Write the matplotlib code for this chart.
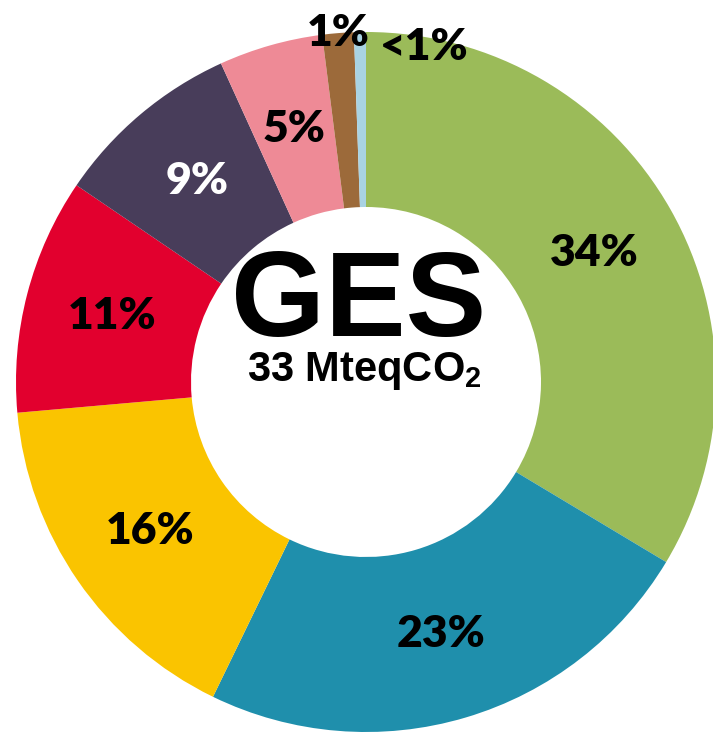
import matplotlib.pyplot as plt
import numpy as np

# Répartition des émissions de GES (parts en %)
valeurs = [33.6, 23.6, 16.4, 10.9, 8.7, 4.8, 1.45, 0.55]
etiquettes = ["34%", "23%", "16%", "11%", "9%", "5%", "1%", "<1%"]
couleurs = ["#9bbb59", "#1f8fac", "#fac400", "#e2002e", "#483d5a",
            "#ee8a96", "#9c6a3a", "#a9d3e3"]
couleurs_texte = ["black", "black", "black", "black", "white", "black", "black", "black"]

titre_centre = "GES"
sous_titre = "33 MteqCO$_2$"

plt.rcParams["mathtext.fontset"] = "custom"
plt.rcParams["mathtext.rm"] = "Liberation Sans:bold"
plt.rcParams["mathtext.bf"] = "Liberation Sans:bold"
plt.rcParams["mathtext.default"] = "bf"

fig = plt.figure(figsize=(7.13, 7.38), dpi=100)
ax = fig.add_axes([16 / 713, 6 / 738, 700 / 713, 700 / 738])

wedges, _ = ax.pie(valeurs, colors=couleurs, startangle=90, counterclock=False,
                   radius=1, wedgeprops=dict(width=0.5, linewidth=0))
ax.set_xlim(-1, 1)
ax.set_ylim(-1, 1)
ax.set_aspect("auto")
ax.axis("off")

police = ["Lato", "DejaVu Sans"]
for i, (w, txt, c) in enumerate(zip(wedges, etiquettes, couleurs_texte)):
    ang = np.deg2rad((w.theta1 + w.theta2) / 2)
    if i < 6:
        r = 0.75
        ax.text(r * np.cos(ang), r * np.sin(ang), txt, ha="center", va="center",
                fontsize=32, fontweight="heavy", color=c, family=police)
    elif i == 6:
        ax.text(1.0 * np.cos(ang), 1.0 * np.sin(ang), txt, ha="center", va="center",
                fontsize=32, fontweight="heavy", color=c, family=police)
    else:
        ax.annotate(txt, xy=(0.98 * np.cos(ang), 0.98 * np.sin(ang)), xytext=(14, -6),
                    textcoords="offset points", ha="left", va="center",
                    fontsize=32, fontweight="heavy", color=c, family=police)

ax.text(-0.02, 0.22, titre_centre, ha="center", va="center", fontsize=87,
        fontweight="bold", family=["Liberation Sans", "DejaVu Sans"])
ax.text(-0.005, 0.03, sous_titre, ha="center", va="center", fontsize=30,
        fontweight="bold", family=["Liberation Sans", "DejaVu Sans"])

fig.savefig("out.png", dpi=100)
